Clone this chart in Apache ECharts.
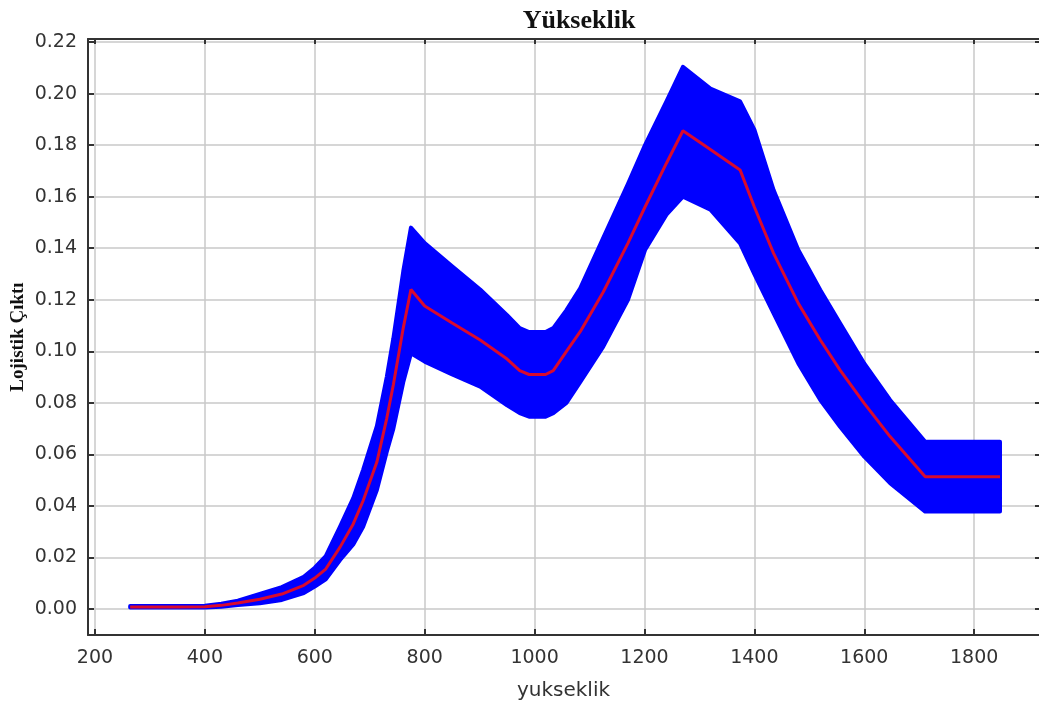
<!DOCTYPE html>
<html>
<head>
<meta charset="utf-8">
<script src="https://cdn.jsdelivr.net/npm/echarts@6/dist/echarts.min.js"></script>
<style>
  html, body { margin: 0; padding: 0; background: #fff; }
  #main { width: 1039px; height: 706px; }
</style>
</head>
<body>
<div id="main"></div>
<script>
// yukseklik values
var heights = [264, 300, 350, 400, 430, 460, 500, 540, 580, 600, 620, 646, 670, 688, 713, 731, 743, 761, 775,
               800, 850, 901, 950, 973, 990, 1020, 1034, 1058, 1083, 1125, 1170, 1201, 1240, 1270, 1320, 1374,
               1400, 1435, 1480, 1520, 1556, 1600, 1647, 1711, 1780, 1847];
// red centre line
var centre = [0.0008, 0.0008, 0.0008, 0.0009, 0.0014, 0.0023, 0.0038, 0.0058, 0.0092, 0.0120, 0.0155, 0.0240, 0.0330, 0.0420, 0.0570, 0.0740, 0.0870, 0.1090, 0.1240,
              0.1176, 0.1110, 0.1044, 0.0970, 0.0925, 0.0910, 0.0910, 0.0925, 0.1000, 0.1076, 0.1230, 0.1420, 0.1560, 0.1730, 0.1856, 0.1783, 0.1704,
              0.1560, 0.1380, 0.1186, 0.1044, 0.0927, 0.0798, 0.0669, 0.0513, 0.0513, 0.0513];
// blue band edges
var upper = [0.0012, 0.0012, 0.0012, 0.0013, 0.0020, 0.0032, 0.0058, 0.0085, 0.0125, 0.0160, 0.0205, 0.0320, 0.0430, 0.0540, 0.0710, 0.0900, 0.1050, 0.1310, 0.1480,
             0.1420, 0.1330, 0.1240, 0.1140, 0.1090, 0.1075, 0.1075, 0.1090, 0.1160, 0.1244, 0.1440, 0.1650, 0.1800, 0.1970, 0.2104, 0.2020, 0.1970,
             0.1860, 0.1626, 0.1393, 0.1238, 0.1109, 0.0953, 0.0811, 0.0649, 0.0649, 0.0649];
var lower = [0.0006, 0.0006, 0.0006, 0.0006, 0.0009, 0.0015, 0.0022, 0.0035, 0.0062, 0.0087, 0.0115, 0.0190, 0.0250, 0.0319, 0.0462, 0.0610, 0.0700, 0.0880, 0.0992,
             0.0960, 0.0910, 0.0863, 0.0790, 0.0760, 0.0746, 0.0746, 0.0760, 0.0800, 0.0880, 0.1018, 0.1200, 0.1393, 0.1530, 0.1600, 0.1550, 0.1419,
             0.1300, 0.1147, 0.0953, 0.0811, 0.0707, 0.0591, 0.0488, 0.0378, 0.0378, 0.0378];

var xTicks = [200, 400, 600, 800, 1000, 1200, 1400, 1600, 1800];
var yTicks = [0, 0.02, 0.04, 0.06, 0.08, 0.10, 0.12, 0.14, 0.16, 0.18, 0.20, 0.22];

var lineData = [];
for (var i = 0; i < heights.length; i++) {
    lineData.push([heights[i], centre[i]]);
}

// band polygon: upper edge left to right, lower edge back
function renderBand(params, api) {
    var pts = [];
    for (var i = 0; i < heights.length; i++) pts.push(api.coord([heights[i], upper[i]]));
    for (var j = heights.length - 1; j >= 0; j--) pts.push(api.coord([heights[j], lower[j]]));
    return {
        type: 'polygon',
        shape: { points: pts },
        style: { fill: '#0000ff', stroke: '#0000ff', lineWidth: 4, lineJoin: 'round' }
    };
}

var axisCol = '#333';
var gridLine = { show: true, lineStyle: { color: '#c8c8c8', width: 1.5 } };

var dom = document.getElementById('main');
var myChart = echarts.init(dom);
var option = {
    animation: false,
    backgroundColor: '#fff',
    title: {
        text: 'Yükseklik',
        left: 574, top: 3, textAlign: 'center',
        textStyle: { fontFamily: 'Liberation Serif', fontWeight: 'bold', fontSize: 26, color: '#111' }
    },
    grid: { left: 88, right: 0, top: 39, bottom: 71, outerBoundsMode: 'none', containLabel: false },
    xAxis: [
        {
            type: 'value', min: 187.3, max: 1918,
            name: 'yukseklik', nameLocation: 'middle', nameGap: 46,
            nameTextStyle: { fontFamily: 'DejaVu Sans', fontSize: 20, color: '#333' },
            axisLine: { onZero: false, lineStyle: { color: axisCol, width: 2 } },
            axisTick: { inside: true, length: 6, customValues: xTicks, lineStyle: { color: axisCol, width: 2 } },
            axisLabel: {
                customValues: xTicks, margin: 14, fontFamily: 'DejaVu Sans', fontSize: 19, color: '#333',
                formatter: function (v) { return String(v); }
            },
            splitLine: gridLine
        },
        {
            type: 'value', position: 'top', min: 187.3, max: 1918,
            axisLine: { onZero: false, lineStyle: { color: axisCol, width: 2 } },
            axisTick: { inside: true, length: 5, customValues: xTicks, lineStyle: { color: axisCol, width: 2 } },
            axisLabel: { show: false },
            splitLine: { show: false }
        }
    ],
    yAxis: [
        {
            type: 'value', min: -0.0101, max: 0.2212,
            name: 'Lojistik Çıktı', nameLocation: 'middle', nameGap: 60, nameMoveOverlap: false,
            nameTextStyle: { fontFamily: 'Liberation Serif', fontWeight: 'bold', fontSize: 19, color: '#111' },
            axisLine: { show: true, onZero: false, lineStyle: { color: axisCol, width: 2 } },
            axisTick: { show: true, inside: true, length: 6, customValues: yTicks, lineStyle: { color: axisCol, width: 2 } },
            axisLabel: {
                customValues: yTicks, margin: 11, fontFamily: 'DejaVu Sans', fontSize: 19, color: '#333',
                formatter: function (v) { return v.toFixed(2); }
            },
            splitLine: gridLine
        },
        {
            type: 'value', position: 'right', min: -0.0101, max: 0.2212,
            axisLine: { show: false, onZero: false },
            axisTick: { show: true, inside: true, length: 4, customValues: yTicks, lineStyle: { color: axisCol, width: 2 } },
            axisLabel: { show: false },
            splitLine: { show: false }
        }
    ],
    series: [
        {
            type: 'custom', renderItem: renderBand,
            data: [[heights[0], upper[0]]], z: 2, silent: true
        },
        {
            type: 'line', data: lineData, symbol: 'none',
            lineStyle: { color: '#d80a2e', width: 3 }, z: 3
        }
    ]
};

if (option && typeof option === 'object') {
    myChart.setOption(option);
}
</script>
</body>
</html>
